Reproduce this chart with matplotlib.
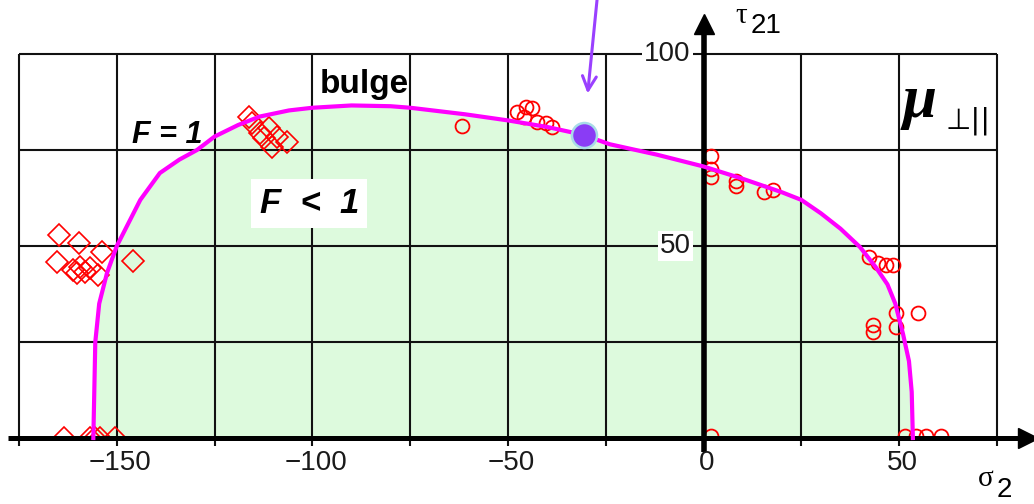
import matplotlib
matplotlib.use("Agg")
import matplotlib.pyplot as plt
from matplotlib.patches import Rectangle

# ---------------- data ----------------
# failure curve F = 1
curve_sigma = [-156, -155.8, -155.5, -154.5, -152.5, -150, -147, -144, -139, -134,
               -129.5, -125, -119, -113.5, -106, -100, -90, -80, -75, -61,
               -50, -40, -31, -24, -12, 0, 10, 20, 25, 30,
               35, 40, 44, 47, 49, 51, 52.5, 53.2, 53.5]
curve_tau = [0, 10, 25, 35, 43, 50, 56, 62, 69, 72.5,
             75, 78.5, 81.5, 83.7, 85.3, 86, 86.6, 86.4, 86, 84.3,
             82.7, 81, 79, 76.5, 73.8, 70.7, 67.5, 64, 62, 58.5,
             54.5, 49.7, 44.5, 40, 35, 27, 20, 12, 0]

# test data, diamonds
diamond_sigma = [-164.8, -159.6, -153.9, -165.4, -145.8, -161.2, -159.4, -158.2, -156.9,
                 -154.8, -160.3,
                 -116.3, -115.5, -113.4, -111.2, -109.1, -106.5, -110.4, -112.5,
                 -163.4, -156.9, -155.7, -154.4, -150.5]
diamond_tau = [52.9, 50.7, 48.4, 45.9, 46.2, 43.8, 44.6, 43.3, 44.2,
               42.4, 43.0,
               83.7, 82.0, 79.3, 80.6, 78.5, 77.2, 75.9, 78.0,
               0, 0, 0, 0, 0]

# test data, circles
circle_sigma = [-61.7, -47.6, -45.5, -43.8, -45.9, -42.5, -40.4, -38.7,
                2.0, 2.0, 2.0, 8.3, 8.3, 15.5, 17.7,
                42.4, 44.6, 48.4, 46.7, 49.2, 49.2, 54.8, 43.3, 43.3,
                1.8, 51.4, 54.3, 56.9, 60.7]
circle_tau = [81.3, 85.0, 86.3, 85.9, 83.7, 82.4, 82.0, 81.1,
              73.5, 70.0, 68.0, 66.8, 65.5, 64.1, 64.6,
              47.2, 45.5, 45.0, 45.0, 32.5, 29.0, 32.5, 29.4, 27.7,
              0.5, 0.5, 0.5, 0.5, 0.5]

# highlighted point
highlight_sigma = [-30.7]
highlight_tau = [78.9]

x_ticks = [-150, -100, -50, 0, 50]
x_tick_labels = ["\u2212150", "\u2212100", "\u221250", "0", "50"]
y_ticks = [50, 100]
y_tick_labels = ["50", "100"]
grid_x = [-175, -150, -125, -100, -75, -50, -25, 0, 25, 50, 75]
grid_y = [25, 50, 75, 100]

# ---------------- figure ----------------
W, H = 1034, 504
fig = plt.figure(figsize=(W / 100, H / 100), dpi=100)
fig.patch.set_facecolor("white")
ax = fig.add_axes([0, 0, 1, 1])
ax.set_xlim(-179.86, 84.46)
ax.set_ylim(-17.19, 114.06)
ax.axis("off")

narrow = ["Liberation Sans Narrow", "Liberation Sans", "DejaVu Sans"]
sans = ["Liberation Sans", "DejaVu Sans"]
serif = ["Liberation Serif", "DejaVu Serif"]

# fill region F < 1
ax.fill_between(curve_sigma, 0, curve_tau, color="#DDFADD", lw=0, zorder=1)

# grid
ax.vlines(grid_x, 0, 100, color="#111111", lw=1.5, zorder=2)
ax.hlines(grid_y, -175, 75, color="#111111", lw=1.5, zorder=2)
# small ticks below x axis
ax.vlines(grid_x, -2.0, 0, color="#111111", lw=1.5, zorder=2)

# markers (clipped to plot area)
clip = Rectangle((-175, 0), 250, 100, transform=ax.transData)
l1, = ax.plot(diamond_sigma, diamond_tau, ls="none", marker="D", ms=11,
              mfc="none", mec="#FF0000", mew=1.2, zorder=3)
l2, = ax.plot(circle_sigma, circle_tau, ls="none", marker="o", ms=10,
              mfc="none", mec="#FF0000", mew=1.3, zorder=3)
l1.set_clip_path(clip)
l2.set_clip_path(clip)

# axes lines
ax.plot([-177.8, 82], [0, 0], color="black", lw=3.6, zorder=4, solid_capstyle="butt")
ax.plot([83.0], [0], marker=">", ms=14, color="black", zorder=4, clip_on=False)
ax.plot([0, 0], [-3.6, 106], color="black", lw=4, zorder=4, solid_capstyle="butt")
ax.plot([0], [107.8], marker="^", ms=14, color="black", zorder=4, clip_on=False)

# curve
ax.plot(curve_sigma, curve_tau, color="#FF00FF", lw=3, zorder=5)

# highlighted point and arrow
ax.plot(highlight_sigma, highlight_tau, ls="none", marker="o", ms=18,
        mfc="#8A3CF5", mec="#A8DCE8", mew=1.8, zorder=6)
ax.annotate("", xy=(highlight_sigma[0], highlight_tau[0]),
            xytext=(highlight_sigma[0] + 3.5, 114.5),
            textcoords="data",
            arrowprops=dict(arrowstyle="->,head_length=1.0,head_width=0.5",
                            color="#9A40FF", lw=2.2,
                            shrinkA=0, shrinkB=30),
            zorder=6, annotation_clip=False)

# tick labels
for xv, lab in zip(x_ticks, x_tick_labels):
    ax.text(xv + 0.8, -6.4, lab, ha="center", va="center", fontsize=20,
            family=narrow, color="#1a1a1a", zorder=7)
for yv, lab in zip(y_ticks, y_tick_labels):
    ax.text(-3.3, yv, lab, ha="right", va="center", fontsize=20,
            family=narrow, color="#1a1a1a", zorder=7,
            bbox=dict(facecolor="white", edgecolor="none", pad=1.5))

# axis labels
ax.text(8.0, 110.0, "\u03c4", ha="left", va="center", fontsize=21,
        family=serif, zorder=7)
ax.text(12.0, 107.3, "21", ha="left", va="center", fontsize=20,
        family=narrow, zorder=7)
ax.text(70.2, -10.6, "\u03c3", ha="left", va="center", fontsize=21,
        family=serif, zorder=7)
ax.text(75.0, -13.5, "2", ha="left", va="center", fontsize=20,
        family=narrow, zorder=7)

# annotations
ax.text(-98.2, 89.8, "bulge", ha="left", va="baseline", fontsize=24,
        fontweight="bold", family=sans, zorder=7)
ax.text(-146.0, 76.8, "F = 1", ha="left", va="baseline", fontsize=22,
        fontweight="bold", fontstyle="italic", family=sans, zorder=7)
ax.text(-113.5, 58.6, "F  <  1", ha="left", va="baseline", fontsize=25,
        fontstyle="italic", fontweight="bold", family=sans, zorder=7,
        bbox=dict(facecolor="white", edgecolor="none", pad=6))
ax.text(50.9, 83.6, "\u03bc", ha="left", va="baseline", fontsize=44,
        fontweight="bold", fontstyle="italic", family=serif, zorder=7)
ax.text(61.8, 80.5, "\u22a5||", ha="left", va="baseline", fontsize=21,
        family=["DejaVu Sans"], zorder=7)

fig.savefig("out.png", dpi=100, facecolor="white")
